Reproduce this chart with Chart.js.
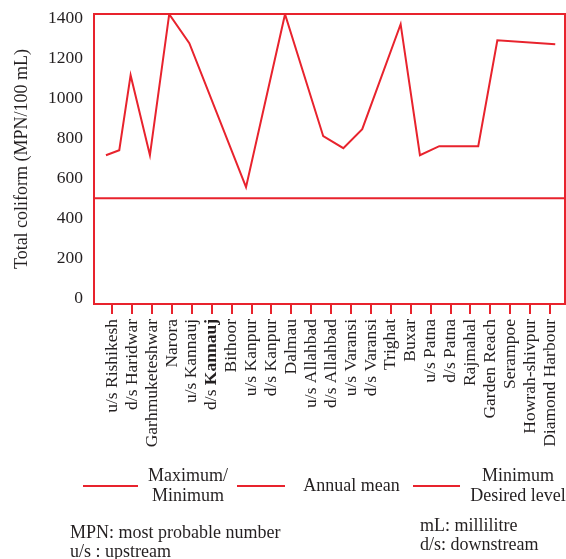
<!DOCTYPE html>
<html>
<head>
<meta charset="utf-8">
<script src="https://cdn.jsdelivr.net/npm/chart.js@4.4.0/dist/chart.umd.min.js"></script>
<style>
  html, body { margin: 0; padding: 0; background: #fff; overflow: hidden; }
  #wrap { position: relative; width: 566px; height: 559px; overflow: hidden;
          font-family: 'Liberation Serif', 'Times New Roman', serif; color: #231f20; }
  canvas { position: absolute; left: 0; top: 0; }
  .sw { position: absolute; height: 2px; background: #e8232d; }
  .txt { position: absolute; font-size: 18px; line-height: 20px; text-align: center; white-space: nowrap; }
  .note { position: absolute; font-size: 18px; line-height: 19px; white-space: nowrap; }
</style>
</head>
<body>
<div id="wrap">
  <canvas id="chart" width="566" height="559"></canvas>

  <!-- legend -->
  <div class="sw" style="left:83px;top:485px;width:55px"></div>
  <div class="txt" style="left:138px;top:465px;width:100px">Maximum/<br>Minimum</div>
  <div class="sw" style="left:237px;top:485px;width:48px"></div>
  <div class="txt" style="left:301px;top:475px;width:101px">Annual mean</div>
  <div class="sw" style="left:413px;top:485px;width:47px"></div>
  <div class="txt" style="left:463px;top:465px;width:110px">Minimum<br>Desired level</div>

  <!-- notes -->
  <div class="note" style="left:70px;top:523px">MPN: most probable number<br>u/s : upstream</div>
  <div class="note" style="left:420px;top:516px">mL: millilitre<br>d/s: downstream</div>
</div>

<script>
var stations = ["u/s Rishikesh", "d/s Haridwar", "Garhmuketeshwar", "Narora", "u/s Kannauj",
  "d/s Kannauj", "Bithoor", "u/s Kanpur", "d/s Kanpur", "Dalmau", "u/s Allahbad", "d/s Allahbad",
  "u/s Varansi", "d/s Varansi", "Trighat", "Buxar", "u/s Patna", "d/s Patna", "Rajmahal",
  "Garden Reach", "Serampoe", "Howrah-shivpur", "Diamond Harbour"];

// readings don't sit exactly on the station ticks in the original, so keep
// their place along the axis (in station-index units)
var readingPos = [-0.32, 0.35, 0.92, 1.89, 2.86, 3.87, 6.72, 8.68, 10.6, 11.61,
  12.56, 14.49, 15.46, 16.43, 18.39, 19.35, 22.26];
var coliform = [715, 740, 1115, 715, 1420, 1275, 555, 1420, 810, 750,
  845, 1370, 715, 760, 760, 1290, 1270];

var minDesired = 500;
var yTicks = [0, 200, 400, 600, 800, 1000, 1200, 1400];

var xMin = -0.92, xMax = 22.75;
var yMin = -29, yMax = 1421;

var red = "#e8232d";
var ink = "#231f20";
var serif = "'Liberation Serif', 'Times New Roman', serif";
var tickFont = 17.5;
var boldIndex = 5; // "d/s Kannauj" has Kannauj in bold
var tickLen = 10, tickPad = 5;

Chart.defaults.font.family = serif;
Chart.defaults.color = ink;

// box round the plot area
var framePlugin = {
  id: "frame",
  afterDatasetsDraw: function (chart) {
    var a = chart.chartArea, c = chart.ctx;
    c.save();
    c.strokeStyle = red;
    c.lineWidth = 2;
    c.strokeRect(a.left, a.top, a.right - a.left, a.bottom - a.top);
    c.restore();
  }
};

// the one tick label with mixed weight
var boldLabelPlugin = {
  id: "boldLabel",
  afterDraw: function (chart) {
    var s = chart.scales.x, c = chart.ctx;
    var x = s.getPixelForValue(boldIndex), y = s.top + tickLen + tickPad;
    var parts = stations[boldIndex].split(" ");
    c.save();
    c.translate(x, y);
    c.rotate(-Math.PI / 2);
    c.textAlign = "right";
    c.textBaseline = "middle";
    c.fillStyle = ink;
    c.font = "bold " + tickFont + "px " + serif;
    c.fillText(parts[1], 0, 0);
    var w = c.measureText(parts[1]).width;
    c.font = tickFont + "px " + serif;
    c.fillText(parts[0] + " ", -w, 0);
    c.restore();
  }
};

var ctx = document.getElementById("chart").getContext("2d");
new Chart(ctx, {
  type: "line",
  data: {
    datasets: [
      {
        label: "Maximum/Minimum",
        data: readingPos.map(function (x, i) { return { x: x, y: coliform[i] }; }),
        borderColor: red,
        borderWidth: 2,
        pointRadius: 0,
        tension: 0,
        fill: false
      },
      {
        label: "Minimum Desired level",
        data: [{ x: xMin, y: minDesired }, { x: xMax, y: minDesired }],
        borderColor: red,
        borderWidth: 2,
        pointRadius: 0,
        fill: false
      }
    ]
  },
  options: {
    responsive: false,
    animation: false,
    layout: { padding: { top: 14, right: 1, left: 0, bottom: 0 } },
    plugins: { legend: { display: false }, tooltip: { enabled: false } },
    scales: {
      x: {
        type: "linear",
        min: xMin,
        max: xMax,
        afterBuildTicks: function (s) {
          s.ticks = stations.map(function (_, i) { return { value: i }; });
        },
        afterFit: function (s) {
          s.height = 559 - 304;
          s.paddingLeft = 0;
          s.paddingRight = 0;
        },
        border: { display: false },
        grid: { drawOnChartArea: false, drawTicks: true, tickLength: tickLen, color: red, lineWidth: 2 },
        ticks: {
          autoSkip: false,
          minRotation: 90,
          maxRotation: 90,
          padding: tickPad,
          font: { size: tickFont },
          color: ink,
          callback: function (v) { return v === boldIndex ? "" : stations[v]; }
        }
      },
      y: {
        min: yMin,
        max: yMax,
        afterBuildTicks: function (s) {
          s.ticks = yTicks.map(function (v) { return { value: v }; });
        },
        afterFit: function (s) {
          s.width = 94;
          s.paddingTop = 0;
          s.paddingBottom = 0;
        },
        border: { display: false },
        grid: { display: false, drawTicks: false },
        ticks: {
          padding: 11,
          font: { size: tickFont },
          color: ink,
          callback: function (v) { return String(v); }
        },
        title: {
          display: true,
          text: "Total coliform (MPN/100 mL)",
          font: { size: 18 },
          color: ink,
          padding: { top: 11, bottom: 0 }
        }
      }
    }
  },
  plugins: [framePlugin, boldLabelPlugin]
});
</script>
</body>
</html>
